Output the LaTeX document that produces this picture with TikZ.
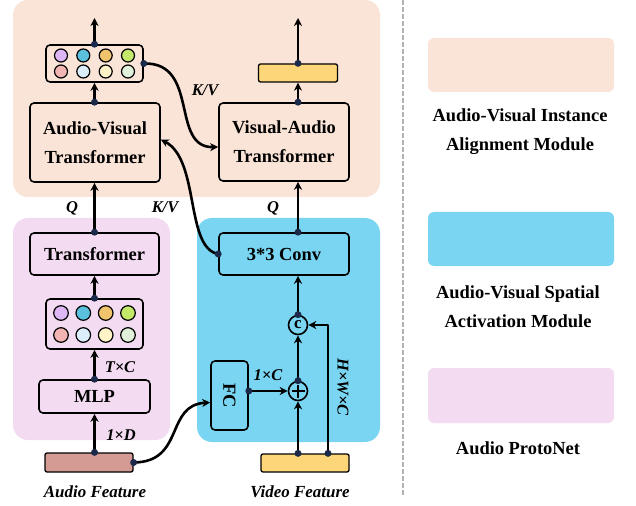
\documentclass[tikz,border=0pt]{standalone}
\usepackage{fontspec}
\setmainfont{Liberation Serif}
\usetikzlibrary{arrows.meta}

\definecolor{aviam}{RGB}{250,228,215}
\definecolor{avsam}{RGB}{121,213,242}
\definecolor{proto}{RGB}{243,219,241}
\definecolor{afeatcol}{RGB}{212,154,148}
\definecolor{vfeatcol}{RGB}{253,214,122}
\definecolor{dotcol}{RGB}{27,42,74}
\definecolor{tA}{RGB}{221,183,245}
\definecolor{tB}{RGB}{91,192,222}
\definecolor{tC}{RGB}{240,195,109}
\definecolor{tD}{RGB}{196,232,106}
\definecolor{tE}{RGB}{242,181,179}
\definecolor{tF}{RGB}{220,238,251}
\definecolor{tG}{RGB}{255,243,200}
\definecolor{tH}{RGB}{224,240,218}

\tikzset{
  region/.style={rounded corners=15bp},
  blk/.style={draw,line width=1.6bp,rounded corners=4bp,inner sep=0pt,align=center,
    font=\fontsize{18.5}{29}\selectfont\bfseries},
  bar/.style={draw,line width=1.3bp,rounded corners=2bp,inner sep=0pt},
  opnode/.style={draw,circle,line width=1.6bp,inner sep=0pt,minimum size=19bp},
  plusnode/.style={opnode,path picture={
    \draw[line width=1.4bp] ([yshift=-6.5bp]path picture bounding box.center) -- ([yshift=6.5bp]path picture bounding box.center);
    \draw[line width=1.4bp] ([xshift=-6.5bp]path picture bounding box.center) -- ([xshift=6.5bp]path picture bounding box.center);}},
  dot/.style={circle,fill=dotcol,inner sep=0pt,minimum size=7bp},
  arr/.style={->,line width=2.6bp},
  lbl/.style={font=\fontsize{16.5}{20}\selectfont\bfseries\itshape},
  legtext/.style={align=center,font=\fontsize{18.5}{29}\selectfont\bfseries},
}

\begin{document}
\begin{tikzpicture}[x=1bp,y=-1bp,>={Stealth[length=8bp,width=8bp,inset=2.5bp]},line join=bevel]
\useasboundingbox (0,0) rectangle (636,506);
%%
  % Regions
  \fill[region,aviam] (13,0) rectangle (380,197);
  \fill[region,proto] (13,218) rectangle (170,440);
  \fill[region,avsam] (197,218) rectangle (380,442);
  % Legend
  \draw[gray!60,line width=2bp,dash pattern=on 5bp off 2bp] (403,0) -- (403,497);
  \fill[rounded corners=6bp,aviam] (428,38) rectangle (614,92);
  \fill[rounded corners=6bp,avsam] (428,212) rectangle (614,266);
  \fill[rounded corners=6bp,proto] (428,368) rectangle (614,423);
  \node[legtext] (legA) at (520,132) {Audio-Visual Instance\\Alignment Module};
  \node[legtext] (legB) at (518,307) {Audio-Visual Spatial\\Activation Module};
  \node[legtext] (legC) at (518,448) {Audio ProtoNet};
%
  % Node: audio side
  \node[bar,fill=afeatcol,minimum width=88bp,minimum height=19bp] (afeat) at (89,462.5) {};
  \node[blk,minimum width=111bp,minimum height=33bp] (mlp) at (94.5,396.5) {MLP};
  \node[blk,minimum width=97bp,minimum height=50bp] (tok2) at (94.5,324) {};
  \node[blk,minimum width=129bp,minimum height=42bp] (trans) at (94.5,254) {Transformer};
  \node[blk,minimum width=130bp,minimum height=79bp] (av) at (95,142.5) {Audio-Visual\\Transformer};
  \node[blk,minimum width=97bp,minimum height=37bp] (tok1) at (94.5,63.5) {};
  \coordinate (out1) at (94.5,18);
  % Node: video side
  \node[bar,fill=vfeatcol,minimum width=88bp,minimum height=18bp] (vfeat) at (305,463) {};
  \node[plusnode] (plus) at (298,391) {};
  \node[opnode] (cat) at (298,325) {\fontsize{17}{17}\selectfont\bfseries c};
  \coordinate (hwc) at (328,325);
  \node[blk,minimum width=37bp,minimum height=69bp] (fc) at (229.5,395.5) {\rotatebox{-90}{FC}};
  \node[blk,minimum width=130bp,minimum height=42bp] (conv) at (284,254) {3*3 Conv};
  \node[blk,minimum width=130bp,minimum height=78bp] (va) at (284,142) {Visual-Audio\\Transformer};
  \node[bar,fill=vfeatcol,minimum width=79bp,minimum height=18bp] (vout) at (298,73) {};
  \coordinate (out2) at (298,18);
%
  % Tokens
  \foreach \dx/\ca/\cb in {-33.5/tA/tE,-11.2/tB/tF,11.2/tC/tG,33.5/tD/tH} {
    \draw[fill=\ca,line width=1.2bp] ([xshift=\dx bp,yshift=8bp]tok1.center) circle (6.5bp);
    \draw[fill=\cb,line width=1.2bp] ([xshift=\dx bp,yshift=-8bp]tok1.center) circle (6.5bp);
    \draw[fill=\ca,line width=1.2bp] ([xshift=\dx bp,yshift=11bp]tok2.center) circle (7.3bp);
    \draw[fill=\cb,line width=1.2bp] ([xshift=\dx bp,yshift=-11bp]tok2.center) circle (7.3bp);
  }
%
  % Edge: audio feature -> MLP
  \draw[arr] (afeat.north -| mlp) -- (mlp.south);
  \node[lbl] (lD) at (121,435) {1×D};
  % Edge: MLP -> tokens
  \draw[arr] (mlp.north) -- (tok2.south);
  \node[lbl] (lTC) at (120,367) {T×C};
  % Edge: tokens -> Transformer
  \draw[arr] (tok2.north) -- (trans.south);
  % Edge: Transformer -> Audio-Visual Transformer
  \draw[arr] (trans.north) -- (trans.north |- av.south);
  \node[lbl] (lQa) at (72,208) {Q};
  % Edge: Audio-Visual Transformer -> tokens
  \draw[arr] (av.north -| tok1) -- (tok1.south);
  % Edge: tokens -> output
  \draw[arr] (tok1.north) -- (out1);
  % Edge: tokens -> Visual-Audio Transformer
  \draw[arr] (tok1.east) .. controls (200,62) and (170,148) .. ([yshift=-5bp]va.west);
  \node[lbl] (lKVa) at (205,90) {K/V};
  % Edge: 3*3 Conv -> Audio-Visual Transformer
  \draw[arr] (conv.west) .. controls (185,248) and (200,160) .. ([yshift=3bp]av.east);
  \node[lbl] (lKVb) at (165,207) {K/V};
  % Edge: audio feature -> FC
  \draw[arr] (afeat.east) .. controls (185,462) and (165,405) .. ([yshift=-7bp]fc.west);
  % Edge: FC -> plus
  \draw[arr] (fc.east |- plus) -- (plus.west);
  \node[lbl] (lC) at (268,375) {1×C};
  % Edge: video feature -> plus
  \draw[arr] (vfeat.north -| plus) -- (plus.south);
  % Edge: video feature -> concat
  \draw[arr] (vfeat.north -| hwc) |- (cat.east);
  \node[lbl,rotate=-90] (lHWC) at (343,387) {H×W×C};
  % Edge: plus -> concat
  \draw[arr] (plus.north) -- (cat.south);
  % Edge: concat -> 3*3 Conv
  \draw[arr] (cat.north) -- (conv.south -| cat);
  % Edge: 3*3 Conv -> Visual-Audio Transformer
  \draw[arr] (conv.north -| cat) -- (va.south -| cat);
  \node[lbl] (lQb) at (273,208) {Q};
  % Edge: Visual-Audio Transformer -> output
  \draw[arr] (va.north -| cat) -- (vout.south);
  \draw[arr] (vout.north) -- (out2);
%
  % Dots
  \foreach \p in {afeat.north -| mlp, afeat.east, mlp.north, tok2.north, trans.north,
      av.north -| tok1, tok1.north, tok1.east, conv.west, fc.east |- plus,
      vfeat.north -| plus, vfeat.north -| hwc, plus.north, cat.north,
      conv.north -| cat, va.north -| cat, vout.north}
    \node[dot] at (\p) {};
%
  % Feature names
  \node[lbl,font=\fontsize{17}{20}\selectfont\bfseries\itshape] (aname) at (95,492) {Audio Feature};
  \node[lbl,font=\fontsize{17}{20}\selectfont\bfseries\itshape] (vname) at (300,492) {Video Feature};
\end{tikzpicture}
\end{document}
